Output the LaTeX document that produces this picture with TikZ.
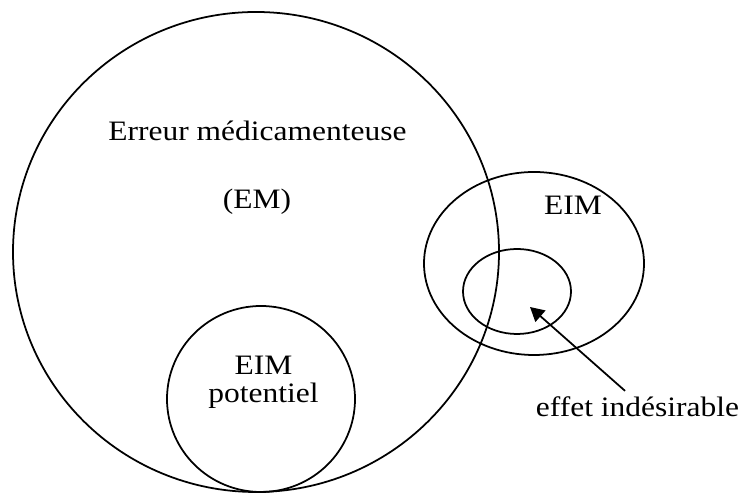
\documentclass[tikz,border=0pt]{standalone}
\usepackage{fontspec}
\setmainfont{Liberation Serif}[FakeStretch=1.12]
\usetikzlibrary{arrows.meta,positioning}

\begin{document}
\begin{tikzpicture}[
  every node/.style={font=\fontsize{16}{16}\selectfont, inner sep=0pt},
  >={Triangle[length=0.28cm,width=0.30cm]},
  venn/.style={line width=1pt}
]

\path[use as bounding box] (0,0) rectangle (14.86,9.88);

% Sets.
\draw[venn] (5.12,4.84) ellipse [x radius=4.86, y radius=4.80];
\draw[venn] (10.68,4.61) ellipse [x radius=2.20, y radius=1.83];
\draw[venn] (10.34,4.05) ellipse [x radius=1.08, y radius=0.85];
\draw[venn] (5.22,1.90) ellipse [x radius=1.88, y radius=1.86];

% Labels.
\node[anchor=base] (erreur) at (5.15,7.07) {Erreur médicamenteuse};
\node[anchor=base] (emabbr) at (5.14,5.70) {(EM)};
\node[anchor=base] (eim) at (11.46,5.58) {EIM};
\node[anchor=north, align=center] (potentiel) at (5.27,2.76)
  {EIM\\potentiel};
\node[anchor=base] (indes) at (12.75,1.55) {effet indésirable};

% Arrow into the inner set.
\coordinate (tip) at (10.60,3.74);
\draw[->, venn] ([xshift=-0.25cm, yshift=0.11cm]indes.north) -- (tip);

\end{tikzpicture}
\end{document}
